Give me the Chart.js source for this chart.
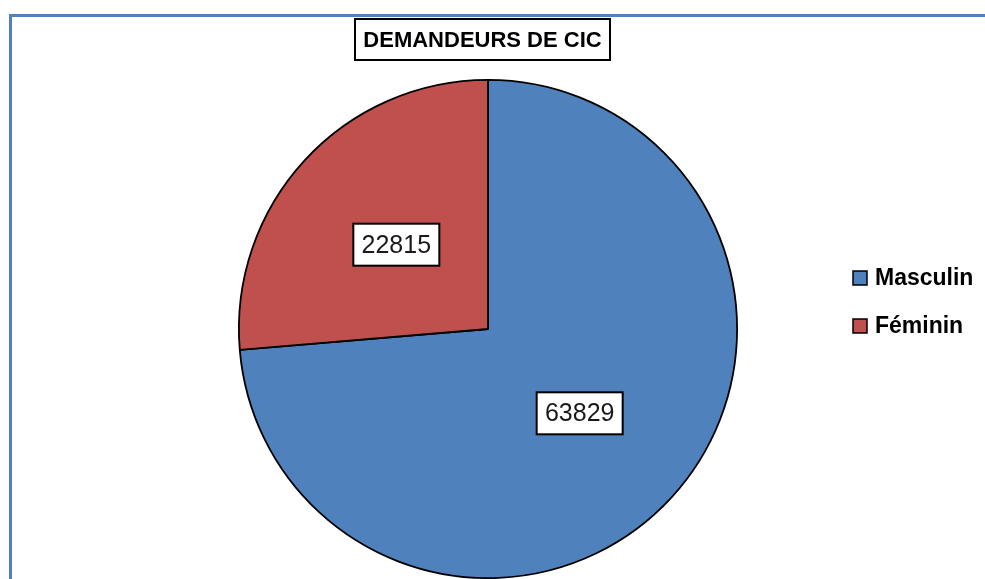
<!DOCTYPE html>
<html>
<head>
<meta charset="utf-8">
<script src="https://cdn.jsdelivr.net/npm/chart.js@4.4.1/dist/chart.umd.min.js"></script>
<style>
  html, body { margin: 0; padding: 0; background: #fff; }
  #wrap { position: relative; width: 985px; height: 579px; overflow: hidden; }
  #frame { position: absolute; left: 9px; top: 14px; width: 1000px; height: 600px;
           border-top: 3px solid #4F81BD; border-left: 3px solid #4F81BD; }
  canvas { position: absolute; left: 0; top: 0; }
</style>
</head>
<body>
<div id="wrap">
  <div id="frame"></div>
  <canvas id="cicChart" width="985" height="579"></canvas>
</div>
<script>
// données du graphique
const titre = 'DEMANDEURS DE CIC';
const categories = ['Masculin', 'Féminin'];
const valeurs = [63829, 22815];
const couleurs = ['#4F81BD', '#C0504D'];

// titre encadré + étiquettes encadrées + légende à droite
const decorPlugin = {
  id: 'decor',
  afterDraw(chart) {
    const ctx = chart.ctx;
    ctx.save();

    // titre dans son cadre
    ctx.font = '700 22px "Liberation Sans", Arial, sans-serif';
    ctx.textAlign = 'center';
    ctx.textBaseline = 'middle';
    ctx.fillStyle = '#fff';
    ctx.fillRect(355, 19, 255, 41);
    ctx.lineWidth = 2;
    ctx.strokeStyle = '#000';
    ctx.strokeRect(355, 19, 255, 41);
    ctx.fillStyle = '#000';
    ctx.fillText(titre, 482.5, 40.5);

    // étiquettes des valeurs
    const meta = chart.getDatasetMeta(0);
    ctx.font = '400 25px "Liberation Sans", Arial, sans-serif';
    meta.data.forEach((arc, i) => {
      const p = arc.tooltipPosition();
      const txt = String(valeurs[i]);
      const w = 86, h = 42;
      ctx.fillStyle = '#fff';
      ctx.fillRect(p.x - w / 2, p.y - h / 2, w, h);
      ctx.lineWidth = 2;
      ctx.strokeStyle = '#000';
      ctx.strokeRect(p.x - w / 2, p.y - h / 2, w, h);
      ctx.fillStyle = '#1a1a1a';
      ctx.fillText(txt, p.x, p.y + 1);
    });

    // légende
    ctx.font = '700 23px "Liberation Sans", Arial, sans-serif';
    ctx.textAlign = 'left';
    categories.forEach((lab, i) => {
      const y = 278 + i * 48;
      ctx.fillStyle = couleurs[i];
      ctx.fillRect(853, y - 7, 14, 14);
      ctx.lineWidth = 1.5;
      ctx.strokeStyle = '#000';
      ctx.strokeRect(853, y - 7, 14, 14);
      ctx.fillStyle = '#000';
      ctx.fillText(lab, 875, y + 1);
    });
    ctx.restore();
  }
};

const ctx = document.getElementById('cicChart').getContext('2d');
new Chart(ctx, {
  type: 'pie',
  data: {
    labels: categories,
    datasets: [{
      data: valeurs,
      backgroundColor: couleurs,
      borderColor: '#000',
      borderWidth: 1.8
    }]
  },
  options: {
    responsive: false,
    animation: false,
    layout: { padding: { left: 238, right: 247, top: 79, bottom: 0 } },
    plugins: {
      legend: { display: false },
      tooltip: { enabled: false },
      title: { display: false }
    }
  },
  plugins: [decorPlugin]
});
</script>
</body>
</html>
